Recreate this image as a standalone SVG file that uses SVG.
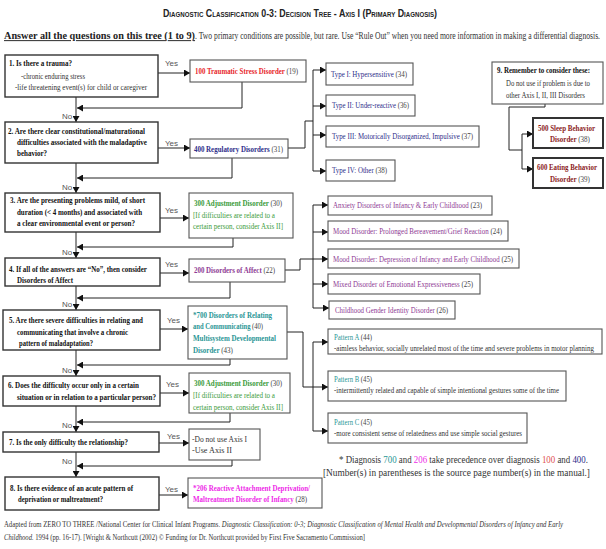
<svg xmlns="http://www.w3.org/2000/svg" width="606" height="549" viewBox="0 0 606 549">
<style>
text{font-family:"Liberation Serif","Times New Roman",serif;font-size:9px;fill:#333}
.q{font-weight:bold;fill:#111}
.b{font-weight:bold}
.lab{font-family:"Liberation Sans",Arial,sans-serif;font-size:8px;fill:#555}
.qb{fill:#fff;stroke:#333;stroke-width:1.4}
.db{fill:#fff;stroke:#555;stroke-width:1.1}
.tb{fill:#fff;stroke:#333;stroke-width:2}
.red{fill:#e8262a}.navy{fill:#2e2e8a}.green{fill:#3a9b3a}.purple{fill:#8e3a94}.teal{fill:#2a9696}.mag{fill:#ee2ae8}.dred{fill:#8b1c1c}.gr{fill:#444;font-weight:normal}
.c{fill:none;stroke:#222;stroke-width:1}
</style>
<defs>
<marker id="ah" markerUnits="userSpaceOnUse" markerWidth="7" markerHeight="7" refX="6" refY="3.5" orient="auto"><path d="M0,0 L6,3.5 L0,7 z" fill="#111"/></marker>
</defs>

<text transform="translate(163,17) scale(.6,1)" textLength="456.7" lengthAdjust="spacingAndGlyphs" style="font-family:'Liberation Sans',Arial,sans-serif;font-size:10.5px;font-weight:bold;font-variant:small-caps;fill:#222">Diagnostic Classification 0-3: Decision Tree - Axis I  (Primary Diagnosis)</text>
<text transform="translate(4,39) scale(.7,1)" textLength="272.9" lengthAdjust="spacingAndGlyphs" class="b" style="text-decoration:underline;fill:#222;font-size:9.5px">Answer all the questions on this tree (1 to 9)</text>
<text transform="translate(195,39) scale(.7,1)" textLength="578.6" lengthAdjust="spacingAndGlyphs" style="font-size:9.5px">. Two primary conditions are possible, but rare. Use “Rule Out” when you need more information in making a differential diagnosis.</text>

<g id="connectors">
<path class="c" d="M76,97 V122" marker-end="url(#ah)"/>
<path class="c" d="M76,163 V193" marker-end="url(#ah)"/>
<path class="c" d="M76,232 V258" marker-end="url(#ah)"/>
<path class="c" d="M76,286 V310" marker-end="url(#ah)"/>
<path class="c" d="M76,350 V376" marker-end="url(#ah)"/>
<path class="c" d="M76,406 V432" marker-end="url(#ah)"/>
<path class="c" d="M76,452 V477" marker-end="url(#ah)"/>
<path class="c" d="M242,82 V108 H77" marker-end="url(#ah)"/>
<path class="c" d="M232,158 V178 H77" marker-end="url(#ah)"/>
<path class="c" d="M233,238 V247 H77" marker-end="url(#ah)"/>
<path class="c" d="M230,282 V298 H77" marker-end="url(#ah)"/>
<path class="c" d="M230,359 V365 H77" marker-end="url(#ah)"/>
<path class="c" d="M230,413 V422 H77" marker-end="url(#ah)"/>
<path class="c" d="M232,460 V466 H77" marker-end="url(#ah)"/>
<path class="c" d="M158,73 H190" marker-end="url(#ah)"/>
<path class="c" d="M158,148 H190" marker-end="url(#ah)"/>
<path class="c" d="M160,218 H189" marker-end="url(#ah)"/>
<path class="c" d="M160,273 H189" marker-end="url(#ah)"/>
<path class="c" d="M160,329 H188" marker-end="url(#ah)"/>
<path class="c" d="M160,393 H189" marker-end="url(#ah)"/>
<path class="c" d="M159,443 H189" marker-end="url(#ah)"/>
<path class="c" d="M159,495 H188" marker-end="url(#ah)"/>
<path class="c" d="M288,148 H305 V121 H313"/>
<path class="c" d="M313,70 V171"/>
<path class="c" d="M313,70 H326" marker-end="url(#ah)"/>
<path class="c" d="M313,106 H326" marker-end="url(#ah)"/>
<path class="c" d="M313,135 H326" marker-end="url(#ah)"/>
<path class="c" d="M313,171 H326" marker-end="url(#ah)"/>
<path class="c" d="M285,270 H300 V259 H313"/>
<path class="c" d="M313,205 V308"/>
<path class="c" d="M313,205 H328" marker-end="url(#ah)"/>
<path class="c" d="M313,232 H328" marker-end="url(#ah)"/>
<path class="c" d="M313,259 H328" marker-end="url(#ah)"/>
<path class="c" d="M313,284 H328" marker-end="url(#ah)"/>
<path class="c" d="M313,308 H329" marker-end="url(#ah)"/>
<path class="c" d="M287,332 H303 V387 H313"/>
<path class="c" d="M313,342 V431"/>
<path class="c" d="M313,342 H328" marker-end="url(#ah)"/>
<path class="c" d="M313,387 H328" marker-end="url(#ah)"/>
<path class="c" d="M313,431 H328" marker-end="url(#ah)"/>
<path class="c" d="M545,104 V107 H509 V150 H522"/>
<path class="c" d="M522,134 V169"/>
<path class="c" d="M522,134 H533" marker-end="url(#ah)"/>
<path class="c" d="M522,169 H533" marker-end="url(#ah)"/>
<text class="lab" x="165" y="66">Yes</text>
<text class="lab" x="165" y="146">Yes</text>
<text class="lab" x="165" y="213">Yes</text>
<text class="lab" x="165" y="267">Yes</text>
<text class="lab" x="167" y="323">Yes</text>
<text class="lab" x="166" y="387">Yes</text>
<text class="lab" x="167" y="439">Yes</text>
<text class="lab" x="165" y="492">Yes</text>
<text class="lab" x="62" y="119">No</text>
<text class="lab" x="62" y="190">No</text>
<text class="lab" x="62" y="255">No</text>
<text class="lab" x="62" y="307">No</text>
<text class="lab" x="62" y="373">No</text>
<text class="lab" x="62" y="428">No</text>
<text class="lab" x="62" y="464">No</text>
</g>

<g id="q1"><rect class="qb" x="5" y="55" width="153" height="42"/>
<text class="q" transform="translate(9,66) scale(.7,1)" textLength="90" lengthAdjust="spacingAndGlyphs">1. Is there a trauma?</text>
<text transform="translate(21,79) scale(.7,1)" textLength="91.4" lengthAdjust="spacingAndGlyphs">-chronic enduring stress</text>
<text transform="translate(15,90) scale(.7,1)" textLength="188.6" lengthAdjust="spacingAndGlyphs">-life threatening event(s) for child or caregiver</text></g>
<g id="q2"><rect class="qb" x="5" y="122" width="153" height="41"/>
<text class="q" transform="translate(8,134) scale(.7,1)" textLength="195.7" lengthAdjust="spacingAndGlyphs">2. Are there clear constitutional/maturational</text>
<text class="q" transform="translate(17,145) scale(.7,1)" textLength="185.7" lengthAdjust="spacingAndGlyphs">difficulties associated with the maladaptive</text>
<text class="q" transform="translate(17,156) scale(.7,1)" textLength="42.9" lengthAdjust="spacingAndGlyphs">behavior?</text></g>
<g id="q3"><rect class="qb" x="5" y="193" width="155" height="39"/>
<text class="q" transform="translate(10,203) scale(.7,1)" textLength="192.9" lengthAdjust="spacingAndGlyphs">3. Are the presenting problems mild, of short</text>
<text class="q" transform="translate(17,215) scale(.7,1)" textLength="178.6" lengthAdjust="spacingAndGlyphs">duration (&lt; 4 months) and associated with</text>
<text class="q" transform="translate(17,226) scale(.7,1)" textLength="168.6" lengthAdjust="spacingAndGlyphs">a clear environmental event or person?</text></g>
<g id="q4"><rect class="qb" x="5" y="258" width="155" height="28"/>
<text class="q" transform="translate(9,272) scale(.7,1)" textLength="197.1" lengthAdjust="spacingAndGlyphs">4. If all of the answers are “No”, then consider</text>
<text class="q" transform="translate(17,283) scale(.7,1)" textLength="80" lengthAdjust="spacingAndGlyphs">Disorders of Affect</text></g>
<g id="q5"><rect class="qb" x="3" y="310" width="157" height="40"/>
<text class="q" transform="translate(9,323) scale(.7,1)" textLength="191.4" lengthAdjust="spacingAndGlyphs">5. Are there severe difficulties in relating and</text>
<text class="q" transform="translate(17,335) scale(.7,1)" textLength="158.6" lengthAdjust="spacingAndGlyphs">communicating that involve a chronic</text>
<text class="q" transform="translate(19,346) scale(.7,1)" textLength="105.7" lengthAdjust="spacingAndGlyphs">pattern of maladaptation?</text></g>
<g id="q6"><rect class="qb" x="3" y="376" width="157" height="30"/>
<text class="q" transform="translate(8,388) scale(.7,1)" textLength="187.1" lengthAdjust="spacingAndGlyphs">6. Does the difficulty occur only in a certain</text>
<text class="q" transform="translate(17,400) scale(.7,1)" textLength="198.6" lengthAdjust="spacingAndGlyphs">situation or in relation to a particular person?</text></g>
<g id="q7"><rect class="qb" x="3" y="432" width="156" height="20"/>
<text class="q" transform="translate(9,445) scale(.7,1)" textLength="170" lengthAdjust="spacingAndGlyphs">7. Is the only difficulty the relationship?</text></g>
<g id="q8"><rect class="qb" x="5" y="477" width="154" height="33"/>
<text class="q" transform="translate(10,491) scale(.7,1)" textLength="175.7" lengthAdjust="spacingAndGlyphs">8. Is there evidence of an acute pattern of</text>
<text class="q" transform="translate(18,502) scale(.7,1)" textLength="121.4" lengthAdjust="spacingAndGlyphs">deprivation or maltreatment?</text></g>

<g id="d100"><rect class="db" x="190" y="60" width="116" height="22"/>
<text class="b red" transform="translate(195,74) scale(.7,1)" textLength="147.1" lengthAdjust="spacingAndGlyphs">100 Traumatic Stress Disorder <tspan class="gr">(19)</tspan></text></g>
<g id="d400"><rect class="db" x="190" y="139" width="98" height="19"/>
<text class="b navy" transform="translate(194,152) scale(.7,1)" textLength="127.1" lengthAdjust="spacingAndGlyphs">400 Regulatory Disorders <tspan class="gr">(31)</tspan></text></g>
<g id="d300a"><rect class="db" x="189" y="193" width="104" height="45"/>
<text class="b green" transform="translate(194,206) scale(.7,1)" textLength="125.7" lengthAdjust="spacingAndGlyphs">300 Adjustment Disorder <tspan class="gr">(30)</tspan></text>
<text class="green" transform="translate(193,218) scale(.7,1)" textLength="117.1" lengthAdjust="spacingAndGlyphs">[If difficulties are related to a</text>
<text class="green" transform="translate(193,229) scale(.7,1)" textLength="128.6" lengthAdjust="spacingAndGlyphs">certain person, consider Axis II]</text></g>
<g id="d200"><rect class="db" x="189" y="259" width="96" height="23"/>
<text class="b purple" transform="translate(194,273) scale(.7,1)" textLength="115.7" lengthAdjust="spacingAndGlyphs">200 Disorders of Affect <tspan class="gr">(22)</tspan></text></g>
<g id="d700"><rect class="db" x="188" y="306" width="99" height="53"/>
<text class="b teal" transform="translate(193,318) scale(.7,1)" textLength="112.9" lengthAdjust="spacingAndGlyphs">*700 Disorders of Relating</text>
<text class="b teal" transform="translate(193,329) scale(.7,1)" textLength="100" lengthAdjust="spacingAndGlyphs">and Communicating <tspan class="gr">(40)</tspan></text>
<text class="b teal" transform="translate(193,341) scale(.7,1)" textLength="118.6" lengthAdjust="spacingAndGlyphs">Multisystem Developmental</text>
<text class="b teal" transform="translate(193,353) scale(.7,1)" textLength="57.1" lengthAdjust="spacingAndGlyphs">Disorder <tspan class="gr">(43)</tspan></text></g>
<g id="d300b"><rect class="db" x="189" y="373" width="101" height="40"/>
<text class="b green" transform="translate(194,386) scale(.7,1)" textLength="125.7" lengthAdjust="spacingAndGlyphs">300 Adjustment Disorder <tspan class="gr">(30)</tspan></text>
<text class="green" transform="translate(193,398) scale(.7,1)" textLength="117.1" lengthAdjust="spacingAndGlyphs">[If difficulties are related to a</text>
<text class="green" transform="translate(193,410) scale(.7,1)" textLength="128.6" lengthAdjust="spacingAndGlyphs">certain person, consider Axis II]</text></g>
<g id="d7"><rect class="db" x="189" y="429" width="71" height="31"/>
<text transform="translate(192,442) scale(.7,1)" textLength="78.6" lengthAdjust="spacingAndGlyphs">-Do not use Axis I</text>
<text transform="translate(192,453) scale(.7,1)" textLength="57.1" lengthAdjust="spacingAndGlyphs">-Use Axis II</text></g>
<g id="d206"><rect class="db" x="188" y="478" width="134" height="30"/>
<text class="b mag" transform="translate(193,491) scale(.7,1)" textLength="167.1" lengthAdjust="spacingAndGlyphs">*206 Reactive Attachment Deprivation/</text>
<text class="b mag" transform="translate(193,502) scale(.7,1)" textLength="162.9" lengthAdjust="spacingAndGlyphs">Maltreatment Disorder of Infancy <tspan class="gr">(28)</tspan></text></g>

<g id="t1"><rect class="db" x="326" y="63" width="87" height="22"/>
<text class="navy" transform="translate(331,77) scale(.7,1)" textLength="108.6" lengthAdjust="spacingAndGlyphs">Type I: Hypersensitive <tspan class="gr">(34)</tspan></text></g>
<g id="t2"><rect class="db" x="326" y="95" width="89" height="21"/>
<text class="navy" transform="translate(332,108) scale(.7,1)" textLength="110" lengthAdjust="spacingAndGlyphs">Type II: Under-reactive <tspan class="gr">(36)</tspan></text></g>
<g id="t3"><rect class="db" x="326" y="126" width="153" height="21"/>
<text class="navy" transform="translate(332,139) scale(.7,1)" textLength="201.4" lengthAdjust="spacingAndGlyphs">Type III: Motorically Disorganized, Impulsive <tspan class="gr">(37)</tspan></text></g>
<g id="t4"><rect class="db" x="326" y="160" width="69" height="21"/>
<text class="navy" transform="translate(332,173) scale(.7,1)" textLength="78.6" lengthAdjust="spacingAndGlyphs">Type IV: Other <tspan class="gr">(38)</tspan></text></g>

<g id="n9"><rect class="db" x="492" y="62" width="111" height="42"/>
<text class="q" transform="translate(497,73) scale(.7,1)" textLength="132.9" lengthAdjust="spacingAndGlyphs">9. Remember to consider these:</text>
<text transform="translate(506,86) scale(.7,1)" textLength="120" lengthAdjust="spacingAndGlyphs">Do not use if problem is due to</text>
<text transform="translate(506,98) scale(.7,1)" textLength="112.9" lengthAdjust="spacingAndGlyphs">other Axis I, II, III Disorders</text></g>
<g id="d500"><rect class="tb" x="533" y="118" width="70" height="30"/>
<text class="b dred" transform="translate(538,131) scale(.7,1)" textLength="81.4" lengthAdjust="spacingAndGlyphs">500 Sleep Behavior</text>
<text class="b dred" transform="translate(550,142) scale(.7,1)" textLength="57.1" lengthAdjust="spacingAndGlyphs">Disorder <tspan class="gr">(38)</tspan></text></g>
<g id="d600"><rect class="tb" x="533" y="158" width="70" height="30"/>
<text class="b dred" transform="translate(537,170) scale(.7,1)" textLength="85.7" lengthAdjust="spacingAndGlyphs">600 Eating Behavior</text>
<text class="b dred" transform="translate(550,182) scale(.7,1)" textLength="57.1" lengthAdjust="spacingAndGlyphs">Disorder <tspan class="gr">(39)</tspan></text></g>

<g id="a1"><rect class="db" x="328" y="196" width="164" height="19"/>
<text class="purple" transform="translate(333,208) scale(.7,1)" textLength="212.9" lengthAdjust="spacingAndGlyphs">Anxiety Disorders of Infancy &amp; Early Childhood <tspan class="gr">(23)</tspan></text></g>
<g id="a2"><rect class="db" x="328" y="221" width="180" height="20"/>
<text class="purple" transform="translate(333,234) scale(.7,1)" textLength="241.4" lengthAdjust="spacingAndGlyphs">Mood Disorder: Prolonged Bereavement/Grief Reaction <tspan class="gr">(24)</tspan></text></g>
<g id="a3"><rect class="db" x="328" y="249" width="191" height="19"/>
<text class="purple" transform="translate(333,262) scale(.7,1)" textLength="257.1" lengthAdjust="spacingAndGlyphs">Mood Disorder: Depression of Infancy and Early Childhood <tspan class="gr">(25)</tspan></text></g>
<g id="a4"><rect class="db" x="328" y="274" width="152" height="20"/>
<text class="purple" transform="translate(333,287) scale(.7,1)" textLength="200" lengthAdjust="spacingAndGlyphs">Mixed Disorder of Emotional Expressiveness <tspan class="gr">(25)</tspan></text></g>
<g id="a5"><rect class="db" x="329" y="301" width="126" height="18"/>
<text class="purple" transform="translate(335,313) scale(.7,1)" textLength="161.4" lengthAdjust="spacingAndGlyphs">Childhood Gender Identity Disorder <tspan class="gr">(26)</tspan></text></g>

<g id="pA"><rect class="db" x="328" y="329" width="274" height="25"/>
<text class="teal" transform="translate(334,340) scale(.7,1)" textLength="54.3" lengthAdjust="spacingAndGlyphs">Pattern A <tspan class="gr">(44)</tspan></text>
<text transform="translate(334,351) scale(.7,1)" textLength="371.4" lengthAdjust="spacingAndGlyphs">-aimless behavior, socially unrelated most of the time and severe problems in motor planning</text></g>
<g id="pB"><rect class="db" x="328" y="371" width="238" height="30"/>
<text class="teal" transform="translate(334,382) scale(.7,1)" textLength="54.3" lengthAdjust="spacingAndGlyphs">Pattern B <tspan class="gr">(45)</tspan></text>
<text transform="translate(334,393) scale(.7,1)" textLength="321.4" lengthAdjust="spacingAndGlyphs">-intermittently related and capable of simple intentional gestures some of the time</text></g>
<g id="pC"><rect class="db" x="328" y="413" width="199" height="30"/>
<text class="teal" transform="translate(334,425) scale(.7,1)" textLength="54.3" lengthAdjust="spacingAndGlyphs">Pattern C <tspan class="gr">(45)</tspan></text>
<text transform="translate(334,436) scale(.7,1)" textLength="268.6" lengthAdjust="spacingAndGlyphs">-more consistent sense of relatedness and use simple social gestures</text></g>

<text transform="translate(339,463) scale(.85,1)" textLength="292.9" lengthAdjust="spacingAndGlyphs" style="font-size:10px">* Diagnosis <tspan class="teal">700</tspan> and <tspan class="mag">206</tspan> take precedence over diagnosis <tspan style="fill:#e05050">100</tspan> and <tspan class="navy">400</tspan>.</text>
<text transform="translate(323,476) scale(.85,1)" textLength="314.1" lengthAdjust="spacingAndGlyphs" style="font-size:10px">[Number(s) in parentheses is the source page number(s) in the manual.]</text>
<text transform="translate(4,527) scale(.7,1)" textLength="798.6" lengthAdjust="spacingAndGlyphs" style="font-size:8.5px">Adapted from ZERO TO THREE /National Center for Clinical Infant Programs. <tspan font-style="italic">Diagnostic Classification: 0-3; Diagnostic Classification of Mental Health and Developmental Disorders of Infancy and Early</tspan></text>
<text transform="translate(4,540) scale(.7,1)" textLength="515.7" lengthAdjust="spacingAndGlyphs" style="font-size:8.5px"><tspan font-style="italic">Childhood.</tspan> 1994 (pp. 16-17). [Wright &amp; Northcutt (2002) © Funding for Dr. Northcutt provided by First Five Sacramento Commission]</text>
</svg>
